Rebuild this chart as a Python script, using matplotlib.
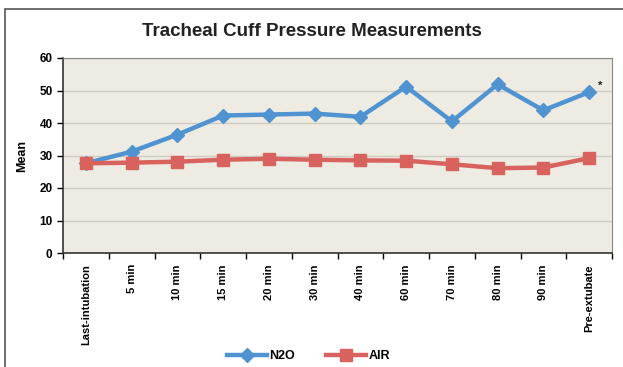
import matplotlib
matplotlib.use("Agg")
import matplotlib.pyplot as plt
from matplotlib.patches import Rectangle
import numpy as np

categories = ["Last-intubation", "5 min", "10 min", "15 min", "20 min", "30 min",
              "40 min", "60 min", "70 min", "80 min", "90 min", "Pre-extubate"]
n2o = [27.6, 31.2, 36.4, 42.3, 42.6, 42.9, 41.9, 51.2, 40.5, 51.9, 43.9, 49.5]
air = [27.6, 27.8, 28.1, 28.7, 29.0, 28.7, 28.5, 28.4, 27.3, 26.1, 26.3, 29.2]
yticks = [0, 10, 20, 30, 40, 50, 60]

plt.rcParams['font.family'] = ['Liberation Sans Narrow', 'Liberation Sans', 'DejaVu Sans']

fig = plt.figure(figsize=(6.23, 3.67), dpi=100)
fig.patch.set_facecolor("white")
# outer chart frame
fig.patches.append(Rectangle((5/623, -0.05), 1.05, 1 - 9/367 + 0.05, transform=fig.transFigure,
                             fill=False, edgecolor="#555555", linewidth=1.2))

ax = fig.add_axes([63/623, 1 - 253/367, (612 - 63)/623, (253 - 58)/367])
ax.set_facecolor("#EEEBE3")
x = np.arange(len(categories))
ax.plot(x, n2o, color="#4F94D0", linewidth=3.2, marker="D", markersize=7, label="N2O", zorder=3)
ax.plot(x, air, color="#D8625E", linewidth=3.2, marker="s", markersize=8, label="AIR", zorder=3)
ax.text(x[-1] + 0.2, n2o[-1] + 1.0, "*", fontsize=8, fontweight="bold", color="#222222")

ax.set_xlim(-0.5, len(categories) - 0.5)
ax.set_ylim(0, 60)
ax.set_yticks(yticks)
ax.set_yticklabels([str(v) for v in yticks], fontsize=8.5, fontweight="bold")
ax.set_xticks(x)
ax.set_xticklabels(categories, rotation=90, fontsize=8, fontweight="bold")
ax.tick_params(axis="x", which="major", length=0, pad=8)
ax.set_xticks(np.arange(-0.5, len(categories), 1), minor=True)
ax.tick_params(axis="x", which="minor", length=4, width=1, direction="out")
ax.tick_params(axis="y", length=4, width=1, direction="out")
ax.grid(axis="y", color="#CFCBC2", linewidth=1)
ax.set_axisbelow(True)
for s in ["top", "right"]:
    ax.spines[s].set_color("#888888")
    ax.spines[s].set_linewidth(0.8)
ax.spines["left"].set_color("#333333")
ax.spines["bottom"].set_color("#333333")
ax.spines["left"].set_linewidth(1.2)
ax.spines["bottom"].set_linewidth(1.2)

ax.set_ylabel("Mean", fontsize=9, fontweight="bold", labelpad=8)
fig.text(0.5, 1 - 32/367, "Tracheal Cuff Pressure Measurements", ha="center", va="center",
         fontsize=13.5, fontweight="bold", color="#222222")

leg = fig.legend(loc="center", bbox_to_anchor=(0.495, 1 - 356/367), ncol=2, frameon=False,
                 prop={"weight": "bold", "size": 9}, handlelength=3.2,
                 columnspacing=2.5, handletextpad=0.2)

fig.savefig("out.png", dpi=100)
